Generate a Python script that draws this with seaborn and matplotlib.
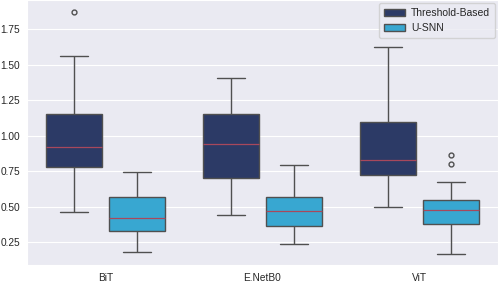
import pandas as pd
import seaborn as sns
import matplotlib.pyplot as plt

# models on the x axis and the two methods compared
models = ['BiT', 'E.NetB0', 'ViT']
methods = ['Threshold-Based', 'U-SNN']

bit_thr = [0.461, 0.60, 0.70, 0.778, 0.82, 0.87, 0.919, 1.00, 1.08, 1.151, 1.30, 1.56, 1.87]
bit_usnn = [0.180, 0.25, 0.30, 0.327, 0.36, 0.39, 0.419, 0.46, 0.52, 0.567, 0.62, 0.70, 0.743]
enet_thr = [0.440, 0.55, 0.65, 0.701, 0.78, 0.86, 0.940, 1.00, 1.08, 1.151, 1.22, 1.30, 1.405]
enet_usnn = [0.236, 0.28, 0.33, 0.363, 0.40, 0.44, 0.468, 0.50, 0.54, 0.567, 0.63, 0.71, 0.792]
vit_thr = [0.496, 0.60, 0.68, 0.722, 0.76, 0.80, 0.827, 0.90, 1.00, 1.095, 1.25, 1.45, 1.623]
vit_usnn = [0.165, 0.25, 0.33, 0.378, 0.41, 0.45, 0.475, 0.50, 0.52, 0.545, 0.673, 0.80, 0.863]

colors = ['#2c3a66', '#38a7d1']

rows = []
for model, thr, usnn in zip(models, [bit_thr, enet_thr, vit_thr], [bit_usnn, enet_usnn, vit_usnn]):
    rows += [(model, methods[0], v) for v in thr]
    rows += [(model, methods[1], v) for v in usnn]
df = pd.DataFrame(rows, columns=['model', 'method', 'value'])

sns.set_style('darkgrid')
plt.rcParams['font.family'] = ['Liberation Sans', 'DejaVu Sans']

fig, ax = plt.subplots(figsize=(4.98, 2.82), dpi=100)
sns.boxplot(data=df, x='model', y='value', hue='method', palette=colors,
            saturation=1, gap=0.1, linecolor='#505050', linewidth=1,
            medianprops={'color': '#a8485c', 'linewidth': 0.9},
            flierprops={'marker': 'o', 'markersize': 3.5, 'markerfacecolor': 'none',
                        'markeredgecolor': '#505050'},
            ax=ax)
ax.set_xlabel('')
ax.set_ylabel('')
ax.set_ylim(0.09, 1.954)
ax.tick_params(labelsize=7.3)
ax.tick_params(axis='y', pad=1.5)
ax.tick_params(axis='x', pad=2)
ax.legend(loc='upper right', fontsize=7.5, frameon=True, borderpad=0.45,
          handlelength=2.0, handletextpad=0.6, borderaxespad=0.3)
fig.subplots_adjust(left=0.054, right=1.0, top=1.0, bottom=0.06)
fig.savefig('out.png', dpi=100)
